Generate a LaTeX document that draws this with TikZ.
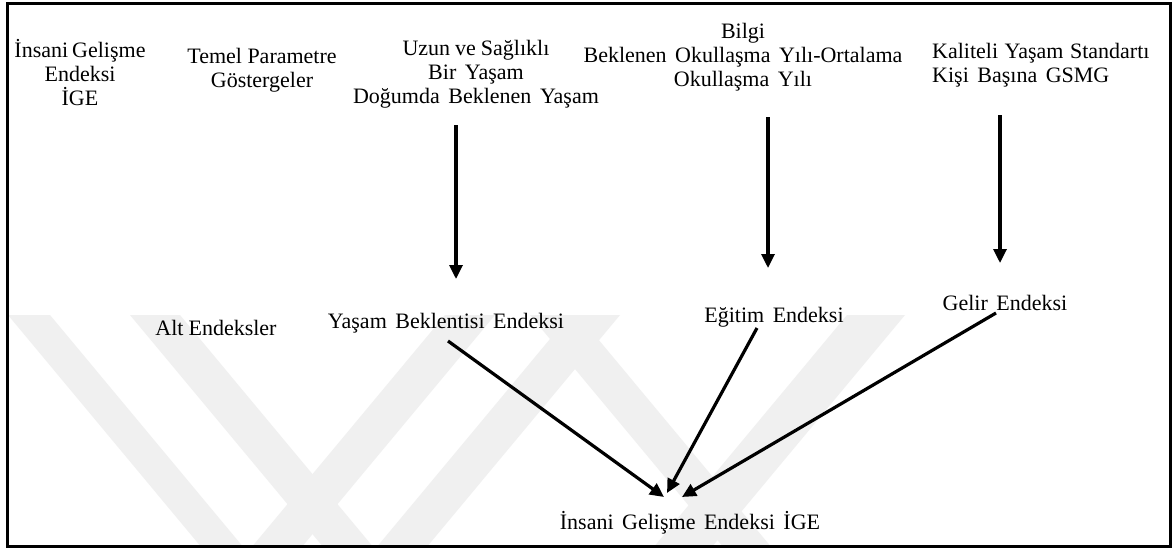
\documentclass[tikz,border=0pt]{standalone}
\usepackage{fontspec}
\setmainfont{Liberation Serif}
\newfontfamily\lblfont{Liberation Serif}[WordSpace=1.55]
\usetikzlibrary{arrows.meta}
\definecolor{wmgray}{gray}{0.94}
\begin{document}
\begin{tikzpicture}[x=1pt,y=-1pt,
  lbl/.style={inner sep=0pt, font=\lblfont\fontsize{22}{24}\selectfont, align=center},
  link/.style={line width=3.2pt, -{Triangle[length=14pt,width=13pt]}},
  wm/.style={fill=wmgray}]
\useasboundingbox (0,0) rectangle (1173,549);
\fill[white] (0,0) rectangle (1173,549);

% faint background emblem: slanted stripes
\begin{scope}
  \clip (9,315) rectangle (1168,545);
  \fill[wm] (8,315)   -- (50,315)  -- (254,560) -- (212,560) -- cycle;
  \fill[wm] (130,315) -- (180,315) -- (384,560) -- (334,560) -- cycle;
  \fill[wm] (445,315) -- (495,315) -- (291,560) -- (241,560) -- cycle;
  \fill[wm] (570,315) -- (620,315) -- (416,560) -- (366,560) -- cycle;
  \fill[wm] (530,315) -- (578,315) -- (782,560) -- (734,560) -- cycle;
  \fill[wm] (847,315) -- (905,315) -- (701,560) -- (643,560) -- cycle;
\end{scope}

% outer frame
\draw[line width=3pt] (7.5,3.5) rectangle (1170,546.5);

% top row: index and its dimensions
\node[lbl] (ige)    at (80,73)  {İnsani\kern4pt Gelişme\\Endeksi\\İGE};
\node[lbl] (param)  at (262,70) {Temel\kern5.5pt Parametre\\Göstergeler};
\node[lbl] (saglik) at (476,74) {Uzun\kern5pt ve\kern5pt Sağlıklı\\Bir Yaşam\\Doğumda Beklenen Yaşam};
\node[lbl] (bilgi)  at (743,57) {Bilgi\\Beklenen Okullaşma Yılı-Ortalama\\Okullaşma Yılı};
\node[lbl, align=left, anchor=west] (refah) at (932,65)
  {Kaliteli\kern6.5pt Yaşam\kern6.5pt Standartı\\Kişi Başına GSMG};

% sub-indices
\node[lbl] (alt)    at (216,328) {Alt\kern5pt Endeksler};
\node[lbl] (ybe)    at (446,323) {Yaşam Beklentisi Endeksi};
\node[lbl] (egitim) at (774,317) {Eğitim Endeksi};
\node[lbl] (gelir)  at (1005,303) {Gelir Endeksi};

% composite index
\node[lbl] (hdi)    at (690,523) {İnsani Gelişme Endeksi İGE};

% connector end points
\coordinate (s1) at (456,125);  \coordinate (e1) at (456,279);
\coordinate (s2) at (768,117);  \coordinate (e2) at (768,268);
\coordinate (s3) at (1000,115); \coordinate (e3) at (1000,263);
\coordinate (s4) at (448,341);  \coordinate (e4) at (664,497);
\coordinate (s5) at (757,328);  \coordinate (e5) at (667,493);
\coordinate (s6) at (996,313);  \coordinate (e6) at (682,497);

\draw[link] (s1) -- (e1);
\draw[link] (s2) -- (e2);
\draw[link] (s3) -- (e3);
\draw[link] (s4) -- (e4);
\draw[link] (s5) -- (e5);
\draw[link] (s6) -- (e6);
\end{tikzpicture}
\end{document}
